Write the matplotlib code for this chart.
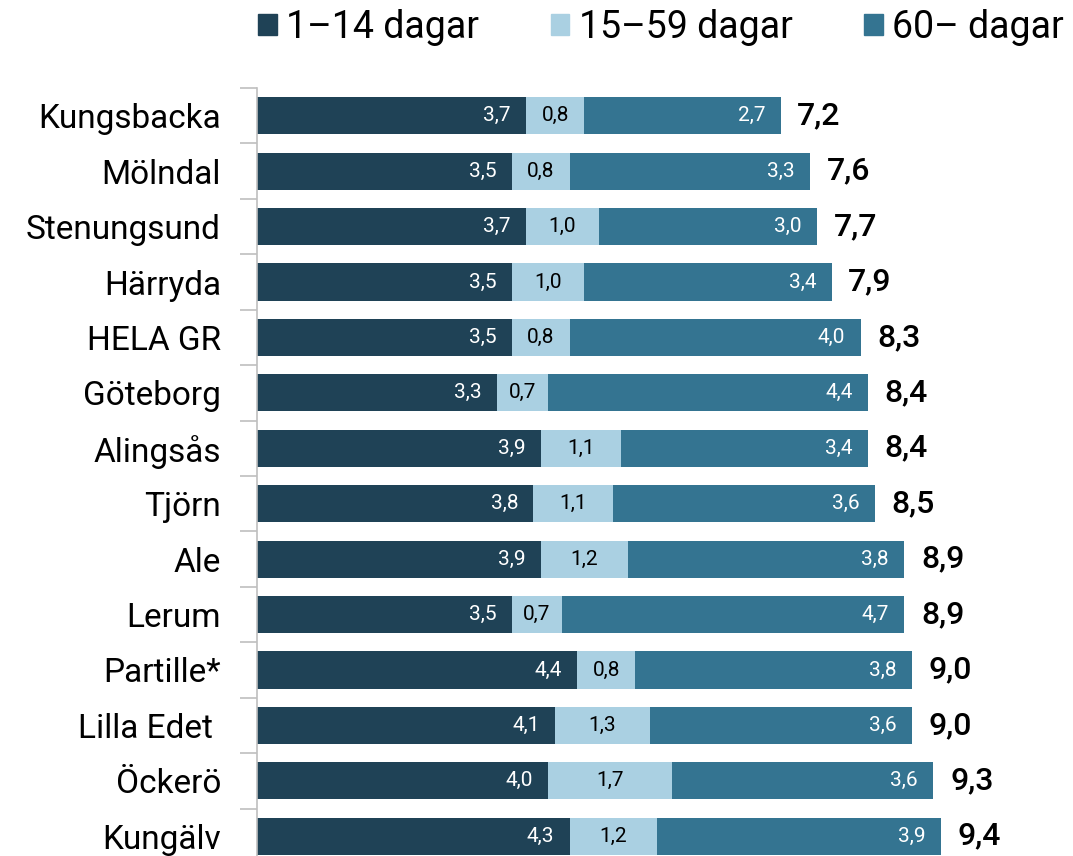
import matplotlib.pyplot as plt
from matplotlib.patches import Patch

plt.rcParams['font.family'] = ['Roboto', 'DejaVu Sans']

# Data
kommuner = ["Kungsbacka", "Mölndal", "Stenungsund", "Härryda", "HELA GR", "Göteborg",
            "Alingsås", "Tjörn", "Ale", "Lerum", "Partille*", "Lilla Edet ", "Öckerö", "Kungälv"]
kort = [3.7, 3.5, 3.7, 3.5, 3.5, 3.3, 3.9, 3.8, 3.9, 3.5, 4.4, 4.1, 4.0, 4.3]
mellan = [0.8, 0.8, 1.0, 1.0, 0.8, 0.7, 1.1, 1.1, 1.2, 0.7, 0.8, 1.3, 1.7, 1.2]
lang = [2.7, 3.3, 3.0, 3.4, 4.0, 4.4, 3.4, 3.6, 3.8, 4.7, 3.8, 3.6, 3.6, 3.9]
totalt = [7.2, 7.6, 7.7, 7.9, 8.3, 8.4, 8.4, 8.5, 8.9, 8.9, 9.0, 9.0, 9.3, 9.4]
serier = ["1\u201314 dagar", "15\u201359 dagar", "60\u2013 dagar"]

c_dark = "#1F4256"
c_light = "#AAD0E2"
c_mid = "#347491"

fig = plt.figure(figsize=(10.73, 8.56), dpi=100)
ax = fig.add_axes([257 / 1073, -8 / 856, 1 - 257 / 1073, 776 / 856])

y = list(range(len(kommuner)))
left2 = [a for a in kort]
left3 = [a + b for a, b in zip(kort, mellan)]
h = 0.67

ax.barh(y, kort, height=h, color=c_dark)
ax.barh(y, mellan, left=left2, height=h, color=c_light)
ax.barh(y, lang, left=left3, height=h, color=c_mid)

def fmt(v):
    return f"{v:.1f}".replace(".", ",")

for i in y:
    ax.annotate(fmt(kort[i]), (kort[i], i), xytext=(-11, 0), textcoords="offset points",
                ha="right", va="center", color="white", fontsize=15)
    ax.annotate(fmt(mellan[i]), (left2[i] + mellan[i] / 2, i), ha="center", va="center",
                color="black", fontsize=15)
    ax.annotate(fmt(lang[i]), (left3[i] + lang[i], i), xytext=(-11, 0), textcoords="offset points",
                ha="right", va="center", color="white", fontsize=15)
    ax.annotate(fmt(totalt[i]), (totalt[i], i), xytext=(12, 0), textcoords="offset points",
                ha="left", va="center", color="black", fontsize=23, fontweight="medium")

ax.set_xlim(0, 11.22)
ax.set_ylim(len(kommuner) - 0.5, -0.5)
ax.set_yticks(y)
ax.set_yticklabels(kommuner, fontsize=24)
ax.tick_params(axis="y", which="major", length=0, pad=26)
ax.set_yticks([i + 0.5 for i in range(-1, len(kommuner))], minor=True)
ax.tick_params(axis="y", which="minor", length=12, color="#BFBFBF", width=1.2)
ax.set_xticks([])
for s in ["top", "right", "bottom"]:
    ax.spines[s].set_visible(False)
ax.spines["left"].set_color("#BFBFBF")
ax.spines["left"].set_linewidth(1.2)

handles = [Patch(color=c_dark), Patch(color=c_light), Patch(color=c_mid)]
fig.legend(handles, serier, loc="center", bbox_to_anchor=(0.616, 0.968), ncol=3,
           frameon=False, fontsize=27, handlelength=0.5, handleheight=0.5,
           handletextpad=0.25, columnspacing=1.9)

fig.savefig("out.png", dpi=100)
